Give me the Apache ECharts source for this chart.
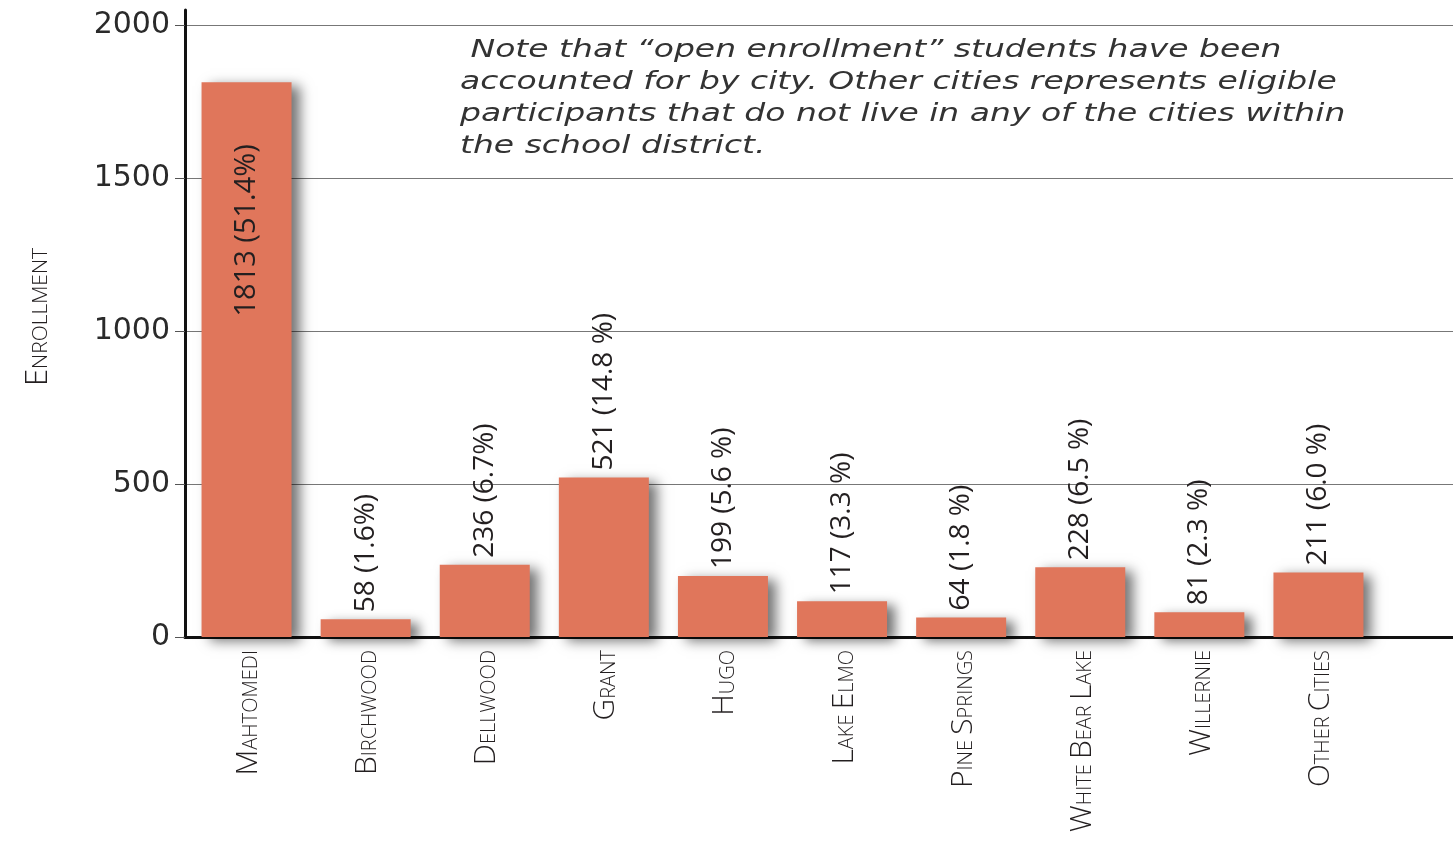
<!DOCTYPE html>
<html>
<head>
<meta charset="utf-8">
<script src="https://cdn.jsdelivr.net/npm/echarts@6/dist/echarts.min.js"></script>
<style>
  html, body { margin: 0; padding: 0; background: #fff; }
  #container { width: 1453px; height: 841px; }
</style>
</head>
<body>
<div id="container"></div>
<script>
var cities = ['Mahtomedi', 'Birchwood', 'Dellwood', 'Grant', 'Hugo', 'Lake Elmo', 'Pine Springs', 'White Bear Lake', 'Willernie', 'Other Cities'];
var enrollment = [1813, 58, 236, 521, 199, 117, 64, 228, 81, 211];
var shares = ['51.4%', '1.6%', '6.7%', '14.8 %', '5.6 %', '3.3 %', '1.8 %', '6.5 %', '2.3 %', '6.0 %'];
var yTicks = [0, 500, 1000, 1500, 2000];

var thin = "'Open Sans', sans-serif";
var ink = '#231f20';

// small caps: first letter of each word big, the rest smaller
function smallCaps(name) {
    return name.split(' ').map(function (w) {
        return '{b|' + w.charAt(0).toUpperCase() + '}{s|' + w.slice(1).toUpperCase() + '}';
    }).join('{s| }');
}

var myChart = echarts.init(document.getElementById('container'));

var barData = enrollment.map(function (v, i) {
    if (i === 0) {
        // big bar: label sits inside
        return { value: v, label: { position: 'insideTop', align: 'right', distance: 62, fontSize: 29 } };
    }
    return v;
});

var option = {
    animation: false,
    backgroundColor: '#fff',
    grid: [
        { left: 187, right: 75, top: 25, bottom: 204, outerBoundsMode: 'none' },
        { left: 185, right: 0, top: 25, bottom: 204, outerBoundsMode: 'none' },
        { left: 185, right: 0, top: 10, bottom: 204, outerBoundsMode: 'none' }
    ],
    xAxis: [{
        gridIndex: 0,
        type: 'category',
        data: cities,
        axisLine: { show: false },
        axisTick: { show: false },
        axisLabel: {
            rotate: 90,
            margin: 13,
            interval: 0,
            formatter: smallCaps,
            rich: {
                b: { fontFamily: thin, fontWeight: 300, fontSize: 30, color: ink, lineHeight: 34, verticalAlign: 'bottom' },
                s: { fontFamily: thin, fontWeight: 300, fontSize: 20, color: ink, lineHeight: 34, verticalAlign: 'bottom', padding: [0, 0, 2, 0] }
            }
        }
    }, {
        gridIndex: 1,
        type: 'value',
        min: 0,
        max: 1,
        axisLine: { show: true, onZero: false, lineStyle: { color: '#111', width: 3 } },
        axisTick: { show: false },
        axisLabel: { show: false },
        splitLine: { show: false }
    }, {
        gridIndex: 2,
        type: 'value',
        min: 0,
        max: 1,
        show: false
    }],
    yAxis: [{
        gridIndex: 0,
        type: 'value',
        min: 0,
        max: 2000,
        interval: 500,
        show: false
    }, {
        gridIndex: 1,
        type: 'value',
        min: 0,
        max: 2000,
        interval: 500,
        axisLine: { show: false },
        axisTick: { show: true, length: 10, lineStyle: { color: '#555', width: 1 } },
        axisLabel: {
            margin: 15,
            color: '#2a2a2a',
            fontFamily: "'DejaVu Sans', sans-serif",
            fontSize: 30,
            formatter: function (v) { return yTicks.indexOf(v) >= 0 ? String(v) : ''; }
        },
        splitLine: { show: true, lineStyle: { color: '#777', width: 1 } }
    }, {
        gridIndex: 2,
        type: 'value',
        min: 0,
        max: 1,
        axisLine: { show: true, lineStyle: { color: '#111', width: 3 } },
        axisTick: { show: false },
        axisLabel: { show: false },
        splitLine: { show: false }
    }],
    graphic: [{
        type: 'text',
        x: 460,
        y: 34,
        scaleX: 1.32,
        style: {
            text: ' Note that \u201copen enrollment\u201d students have been\naccounted for by city. Other cities represents eligible\nparticipants that do not live in any of the cities within\nthe school district.',
            fontFamily: "'DejaVu Sans', sans-serif",
            fontStyle: 'italic',
            fontSize: 25,
            lineHeight: 32,
            fill: '#333'
        }
    }, {
        type: 'text',
        x: 37,
        y: 317,
        rotation: Math.PI / 2,
        style: {
            text: '{b|E}{s|NROLLMENT}',
            align: 'center',
            verticalAlign: 'middle',
            rich: {
                b: { fontFamily: thin, fontWeight: 300, fontSize: 31, fill: ink, lineHeight: 34, verticalAlign: 'bottom' },
                s: { fontFamily: thin, fontWeight: 300, fontSize: 21, fill: ink, lineHeight: 34, verticalAlign: 'bottom', padding: [0, 0, 2, 0] }
            }
        }
    }],
    series: [{
        name: 'Enrollment',
        type: 'bar',
        xAxisIndex: 0,
        yAxisIndex: 0,
        barWidth: 90,
        data: barData,
        itemStyle: {
            color: '#e0765b',
            shadowColor: 'rgba(0,0,0,0.55)',
            shadowBlur: 12,
            shadowOffsetX: 8,
            shadowOffsetY: 4
        },
        label: {
            show: true,
            position: 'top',
            rotate: 90,
            align: 'left',
            verticalAlign: 'middle',
            distance: 7,
            fontFamily: thin,
            fontWeight: 400,
            fontSize: 28,
            color: ink,
            formatter: function (p) {
                return enrollment[p.dataIndex] + ' (' + shares[p.dataIndex] + ')';
            }
        }
    }]
};

myChart.setOption(option);
</script>
</body>
</html>
